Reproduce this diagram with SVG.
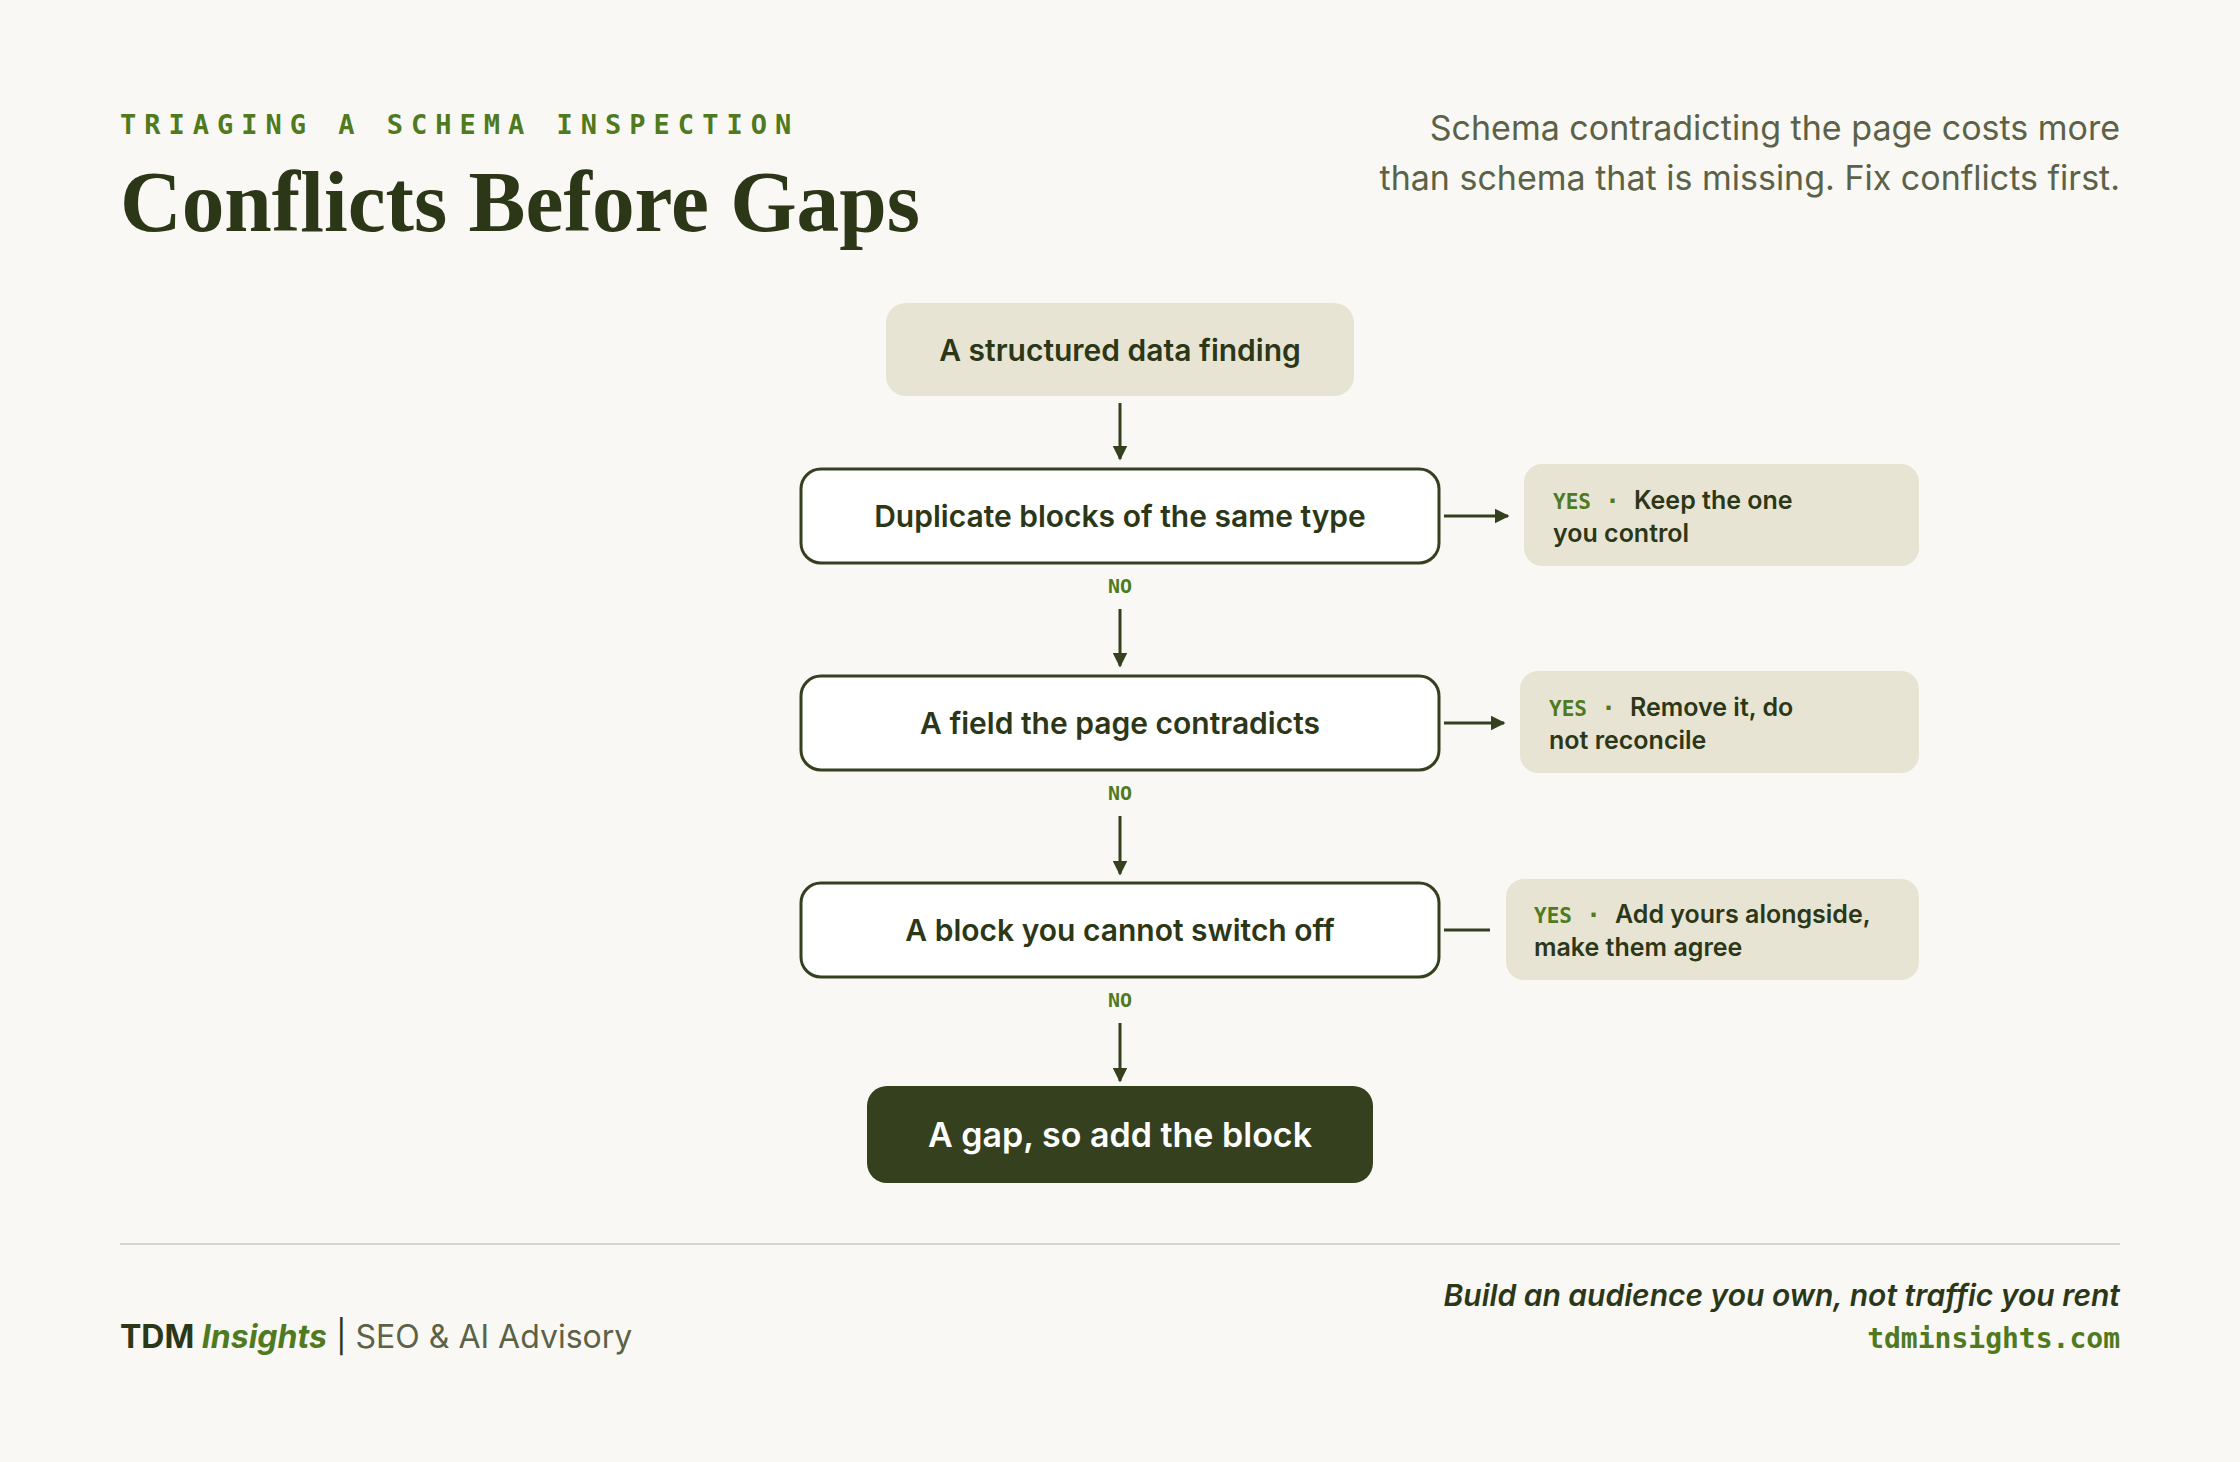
<svg xmlns="http://www.w3.org/2000/svg" width="2240" height="1462" viewBox="0 0 2240 1462">
<style>
.s{font-family:Inter,"Noto Sans",sans-serif;font-weight:600;fill:#2c3717}
.m{font-family:"DejaVu Sans Mono","Liberation Mono",monospace;font-weight:700;fill:#4f7a1f}
.q{fill:#fff;stroke:#35401e;stroke-width:3}
.o{fill:#e8e4d4}
.c{stroke:#35401e;stroke-width:3;fill:none}
</style>
<defs><marker id="a" viewBox="0 0 10 10" refX="9" refY="5" markerWidth="5" markerHeight="5" orient="auto"><path d="M0,0L10,5L0,10z" fill="#35401e"/></marker></defs>
<rect width="2240" height="1462" fill="#f9f8f4"/>
<text x="120" y="134" class="m" font-size="27" letter-spacing="8">TRIAGING A SCHEMA INSPECTION</text>
<text x="120" y="231" font-family="Liberation Serif,serif" font-weight="700" font-size="86" fill="#2c3717" textLength="800" lengthAdjust="spacingAndGlyphs">Conflicts Before Gaps</text>
<g font-family="Inter,'Noto Sans',sans-serif" font-size="34" fill="#5b6247" text-anchor="end"><text x="2120" y="140">Schema contradicting the page costs more</text><text x="2120" y="190">than schema that is missing. Fix conflicts first.</text></g>
<g id="connectors">
<path class="c" d="M1120 403V459" marker-end="url(#a)"/>
<path class="c" d="M1120 609V666" marker-end="url(#a)"/>
<path class="c" d="M1120 816V874" marker-end="url(#a)"/>
<path class="c" d="M1120 1023V1081" marker-end="url(#a)"/>
<path class="c" d="M1444 516H1508" marker-end="url(#a)"/>
<path class="c" d="M1444 723H1504" marker-end="url(#a)"/>
<path class="c" d="M1444 930H1490"/>
<g class="m" font-size="20" text-anchor="middle"><text x="1120" y="593">NO</text><text x="1120" y="800">NO</text><text x="1120" y="1007">NO</text></g>
</g>
<g id="start"><rect x="886" y="303" width="468" height="93" rx="20" class="o"/><text x="1120" y="361" class="s" font-size="30" text-anchor="middle">A structured data finding</text></g>
<g id="d1"><rect x="801" y="469" width="638" height="94" rx="20" class="q"/><text x="1120" y="527" class="s" font-size="30" text-anchor="middle">Duplicate blocks of the same type</text></g>
<g id="d2"><rect x="801" y="676" width="638" height="94" rx="20" class="q"/><text x="1120" y="734" class="s" font-size="30" text-anchor="middle">A field the page contradicts</text></g>
<g id="d3"><rect x="801" y="883" width="638" height="94" rx="20" class="q"/><text x="1120" y="941" class="s" font-size="30" text-anchor="middle">A block you cannot switch off</text></g>
<g id="end"><rect x="867" y="1086" width="506" height="97" rx="20" fill="#35401e"/><text x="1120" y="1147" class="s" font-size="34" style="fill:#fff" text-anchor="middle">A gap, so add the block</text></g>
<g id="y1"><rect x="1524" y="464" width="395" height="102" rx="18" class="o"/><text x="1553" y="509" class="s" font-size="25"><tspan class="m" font-size="21">YES</tspan><tspan class="m" dx="14">·</tspan><tspan dx="14">Keep the one</tspan></text><text x="1553" y="542" class="s" font-size="25">you control</text></g>
<g id="y2"><rect x="1520" y="671" width="399" height="102" rx="18" class="o"/><text x="1549" y="716" class="s" font-size="25"><tspan class="m" font-size="21">YES</tspan><tspan class="m" dx="14">·</tspan><tspan dx="14">Remove it, do</tspan></text><text x="1549" y="749" class="s" font-size="25">not reconcile</text></g>
<g id="y3"><rect x="1506" y="879" width="413" height="101" rx="18" class="o"/><text x="1534" y="923" class="s" font-size="25"><tspan class="m" font-size="21">YES</tspan><tspan class="m" dx="14">·</tspan><tspan dx="14">Add yours alongside,</tspan></text><text x="1534" y="956" class="s" font-size="25">make them agree</text></g>
<line x1="120" y1="1244" x2="2120" y2="1244" stroke="#d8d6cc" stroke-width="2"/>
<text x="120" y="1348" font-family="Inter,'Noto Sans',sans-serif" font-size="32"><tspan font-weight="700" fill="#2c3717">TDM </tspan><tspan font-weight="700" font-style="italic" fill="#4f7a1f">Insights</tspan><tspan fill="#2c3717"> | </tspan><tspan fill="#5b6247">SEO &amp; AI Advisory</tspan></text>
<text x="2120" y="1306" font-family="Inter,'Noto Sans',sans-serif" font-size="30" font-weight="600" font-style="italic" fill="#2c3717" text-anchor="end">Build an audience you own, not traffic you rent</text>
<text x="2120" y="1348" class="m" font-size="28" text-anchor="end">tdminsights.com</text>
</svg>
